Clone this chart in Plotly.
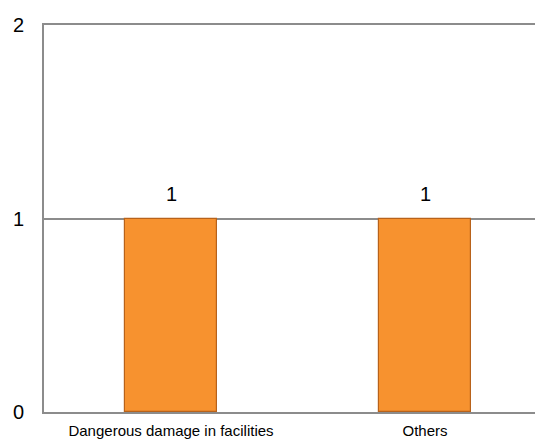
import plotly.graph_objects as go

# Incident counts by category
categories = ["Dangerous damage in facilities", "Others"]
counts = [1, 1]
y_ticks = [0, 1, 2]

BAR_FILL = "#F7922F"
BAR_EDGE = "#B8621A"
AXIS_GREY = "#8C8C8C"
FONT = "Liberation Sans, Arial, sans-serif"

fig = go.Figure()
fig.add_trace(go.Bar(
    x=categories,
    y=counts,
    width=0.36,
    marker=dict(color=BAR_FILL, line=dict(color=BAR_EDGE, width=1.2)),
    hoverinfo="x+y",
))

# Value labels above each bar
for cat, val in zip(categories, counts):
    fig.add_annotation(
        x=cat, y=val, text=str(val),
        showarrow=False, yanchor="bottom", yshift=12,
        font=dict(family=FONT, size=20, color="#000000"),
    )

fig.update_layout(
    width=535,
    height=439,
    margin=dict(l=44, r=0, t=25, b=27),
    paper_bgcolor="white",
    plot_bgcolor="white",
    showlegend=False,
    font=dict(family=FONT, color="#000000"),
    bargap=0,
)

fig.update_xaxes(
    type="category",
    range=[-0.5, 1.433],
    showgrid=False,
    showline=True,
    linecolor=AXIS_GREY,
    linewidth=2,
    mirror=True,
    ticks="",
    ticklabelstandoff=4,
    tickfont=dict(family=FONT, size=15, color="#000000"),
)

fig.update_yaxes(
    range=[0, 2],
    tickvals=y_ticks,
    ticktext=[str(t) for t in y_ticks],
    showgrid=True,
    gridcolor=AXIS_GREY,
    gridwidth=1.5,
    showline=True,
    linecolor=AXIS_GREY,
    linewidth=2,
    zeroline=False,
    ticks="",
    ticklabelstandoff=14,
    tickfont=dict(family=FONT, size=20, color="#000000"),
)

fig.write_html("out.html")
